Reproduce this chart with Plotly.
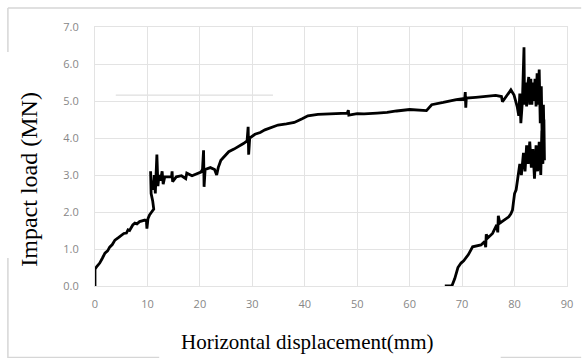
import plotly.graph_objects as go

# Horizontal displacement (mm) and impact load (MN)
disp_mm = [
    0.0, 0.0, 0.3, 0.9, 1.4, 1.9, 2.4, 2.8, 3.3, 3.8, 4.4, 5.0, 5.5, 6.0, 6.3, 6.6,
    7.2, 7.6, 8.0, 8.5, 9.0, 9.5, 9.8, 9.9, 10.1, 10.4, 10.8, 11.2, 11.0, 10.7, 10.6,
    10.7, 10.9, 11.1, 11.3, 11.5, 11.8, 12.0, 12.2, 12.5, 12.8, 13.0, 13.3, 14.0,
    14.6, 14.7, 14.8, 15.5, 16.5, 17.3, 17.5, 18.5, 19.5, 20.2, 20.5, 20.7, 20.8,
    21.0, 22.0, 22.8, 23.2, 23.5, 24.0, 25.0, 25.5, 26.5, 27.4, 28.3, 29.0, 29.2,
    29.3, 29.5, 30.5, 31.5, 32.4, 33.5, 34.9, 36.5, 38.0, 39.5, 40.6, 42.5, 45.0,
    48.1, 48.3, 48.4, 50.0, 51.3, 53.8, 55.7, 57.5, 60.0, 63.2, 64.2, 66.4, 68.9,
    70.5, 70.6, 70.7, 70.8, 72.6, 74.5, 76.4, 77.5, 77.7, 78.3, 79.0, 79.3, 79.9,
    80.5, 80.8,
    81.0, 81.2, 81.5, 81.8, 81.9, 82.1, 82.3, 82.5, 82.7, 82.9, 83.1, 83.3, 83.5,
    83.7, 83.9, 84.1, 84.3, 84.5, 84.7, 84.9, 85.1, 85.3, 85.5, 85.7, 85.6, 85.4,
    85.2, 85.0, 84.7, 84.4, 84.1, 83.8, 83.5, 83.2, 82.9, 82.6, 82.3, 82.0, 81.7,
    81.3, 81.0, 80.6,
    80.3, 80.0, 79.8, 79.6, 79.3, 78.9, 78.0, 77.2, 76.9, 76.8, 76.6, 75.8, 74.9,
    74.6, 74.5, 74.3, 73.6, 72.9, 72.0, 71.2, 70.3, 69.8, 69.2, 68.6, 68.1, 67.8,
    66.7,
]
load_MN = [
    0.0, 0.45, 0.52, 0.62, 0.75, 0.89, 0.95, 1.05, 1.12, 1.24, 1.3, 1.38, 1.42, 1.43,
    1.52, 1.5, 1.65, 1.7, 1.68, 1.74, 1.76, 1.78, 1.75, 1.55, 1.82, 1.92, 2.0, 2.08,
    2.3, 2.5, 3.1, 2.7, 2.85, 2.6, 3.0, 2.5, 3.55, 2.7, 3.0, 2.85, 3.1, 2.75, 2.95,
    2.95, 2.95, 3.1, 2.82, 2.95, 2.98, 2.9, 3.05, 2.98, 3.05, 3.08, 3.15, 3.67, 2.68,
    3.15, 3.2, 3.15, 3.0, 3.2, 3.4, 3.55, 3.63, 3.7, 3.77, 3.85, 3.92, 4.3, 3.55,
    4.0, 4.1, 4.15, 4.22, 4.28, 4.35, 4.38, 4.42, 4.52, 4.6, 4.64, 4.65, 4.67, 4.75,
    4.62, 4.66, 4.65, 4.67, 4.69, 4.73, 4.77, 4.74, 4.9, 4.96, 5.04, 5.07, 5.24,
    4.82, 5.08, 5.1, 5.12, 5.15, 5.12, 4.98, 5.1, 5.25, 5.3, 5.16, 4.85, 4.6,
    5.2, 4.4, 5.0, 6.45, 4.9, 5.5, 4.85, 5.4, 5.65, 4.9, 5.6, 4.9, 5.5, 5.0, 5.6,
    4.85, 5.75, 4.9, 5.85, 4.4, 5.4, 3.6, 4.9, 3.4, 4.5, 3.3, 4.2, 3.0, 3.9, 3.1,
    3.8, 2.9, 3.7, 3.2, 3.9, 3.3, 3.8, 3.1, 3.6, 3.0, 3.3, 2.9,
    2.6, 2.5, 2.25, 2.05, 1.95, 1.87, 1.78, 1.7, 1.9, 1.45, 1.65, 1.42, 1.3, 1.4,
    1.05, 1.2, 1.11, 1.08, 1.06, 0.85, 0.68, 0.62, 0.5, 0.2, 0.02, 0.0, 0.0,
]

x_ticks = [0, 10, 20, 30, 40, 50, 60, 70, 80, 90]
y_ticks = [0.0, 1.0, 2.0, 3.0, 4.0, 5.0, 6.0, 7.0]
x_title = "Horizontal displacement(mm)"
y_title = "Impact load (MN)"

grid_col = "#e3e3e3"
tick_col = "#878787"
frame_col = "#d6d6d6"

fig = go.Figure()
fig.add_trace(go.Scatter(
    x=disp_mm, y=load_MN, mode="lines",
    line=dict(color="black", width=2.8),
    showlegend=False, hoverinfo="skip",
))

fig.update_layout(
    width=585, height=358,
    margin=dict(l=95, r=13, t=27, b=72),
    paper_bgcolor="white", plot_bgcolor="white",
    xaxis=dict(
        range=[0, 90], tickvals=x_ticks, ticktext=[str(v) for v in x_ticks],
        showgrid=True, gridcolor=grid_col, gridwidth=1, zeroline=False,
        showline=True, mirror=True, linecolor=grid_col, linewidth=1,
        ticks="outside", ticklen=8, tickcolor="rgba(0,0,0,0)",
        tickfont=dict(family="Open Sans", size=11, color=tick_col),
        fixedrange=True,
    ),
    yaxis=dict(
        range=[0, 7], tickvals=y_ticks, ticktext=[f"{v:.1f}" for v in y_ticks],
        showgrid=True, gridcolor=grid_col, gridwidth=1, zeroline=False,
        showline=True, mirror=True, linecolor=grid_col, linewidth=1,
        ticks="outside", ticklen=13, tickcolor="rgba(0,0,0,0)",
        tickfont=dict(family="Open Sans", size=11, color=tick_col),
        fixedrange=True,
    ),
    annotations=[
        dict(text=x_title, xref="paper", yref="paper", x=0.4507, y=-0.216,
             xanchor="center", yanchor="middle", showarrow=False,
             font=dict(family="Liberation Serif", size=21, color="black")),
        dict(text=y_title, xref="paper", yref="paper", x=-0.1405, y=0.413,
             xanchor="center", yanchor="middle", showarrow=False, textangle=-90,
             font=dict(family="Liberation Serif", size=24, color="black")),
    ],
    shapes=[
        # blank (empty legend) box over the upper-left grid
        dict(type="rect", xref="paper", yref="paper", x0=0.027, x1=0.392,
             y0=0.735, y1=0.99, fillcolor="white", line=dict(width=0),
             layer="between"),
        dict(type="line", xref="paper", yref="paper", x0=0.044, x1=0.377,
             y0=0.737, y1=0.737, line=dict(color=frame_col, width=1),
             layer="between"),
        # outer frame fragments
        dict(type="line", xref="paper", yref="paper", x0=-0.1845, x1=1.03,
             y0=1.0734, y1=1.0734, line=dict(color=frame_col, width=1.5)),
        dict(type="line", xref="paper", yref="paper", x0=-0.1845, x1=-0.1845,
             y0=1.0734, y1=0.9035, line=dict(color=frame_col, width=1.5)),
        dict(type="line", xref="paper", yref="paper", x0=-0.1845, x1=-0.1845,
             y0=0.108, y1=-0.28, line=dict(color=frame_col, width=1.5)),
        dict(type="line", xref="paper", yref="paper", x0=-0.1845, x1=0.136,
             y0=-0.276, y1=-0.276, line=dict(color=frame_col, width=1.5)),
        dict(type="line", xref="paper", yref="paper", x0=0.8595, x1=1.03,
             y0=-0.276, y1=-0.276, line=dict(color=frame_col, width=1.5)),
    ],
)

fig.write_html(
    "out.html",
    config={"displayModeBar": False, "staticPlot": True},
    post_script="document.body.style.margin='0';document.body.style.overflow='hidden';",
)
